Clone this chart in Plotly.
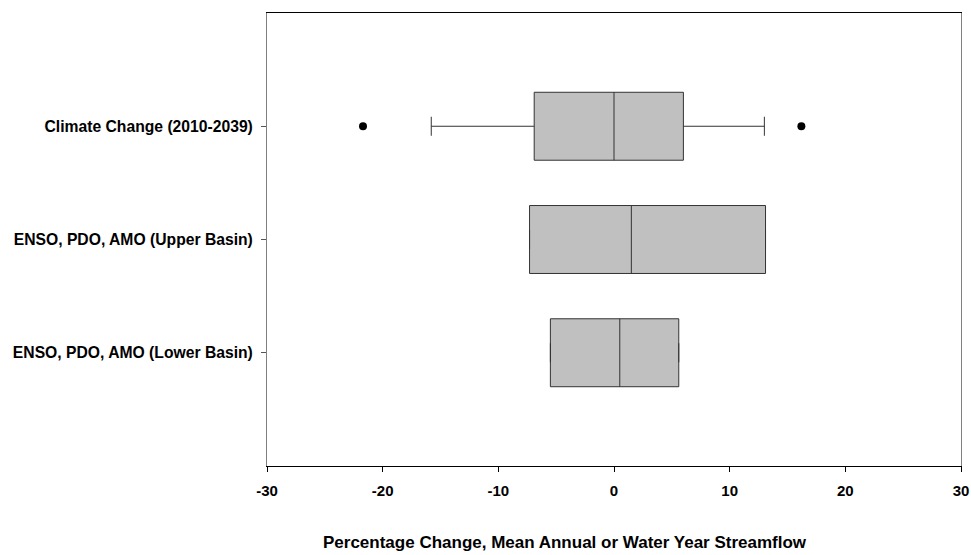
import plotly.graph_objects as go

# Scenario labels, top to bottom
categories = [
    "Climate Change (2010-2039)",
    "ENSO, PDO, AMO (Upper Basin)",
    "ENSO, PDO, AMO (Lower Basin)",
]
positions = [1, 2, 3]

# Box statistics (percent change)
q1 = [-6.9, -7.3, -5.5]
median = [0.0, 1.5, 0.5]
q3 = [6.0, 13.1, 5.6]
lower_fence = [-15.8, -7.3, -5.5]
upper_fence = [13.0, 13.1, 5.6]

# Outlying points for the climate change scenario
outlier_x = [-21.7, 16.2]
outlier_pos = [1, 1]

x_ticks = [-30, -20, -10, 0, 10, 20, 30]

FONT = "Liberation Sans, Arial, sans-serif"

fig = go.Figure()

fig.add_trace(go.Box(
    orientation="h",
    y=positions,
    q1=q1,
    median=median,
    q3=q3,
    lowerfence=lower_fence,
    upperfence=upper_fence,
    width=0.6,
    whiskerwidth=0.28,
    fillcolor="#c0c0c0",
    line=dict(color="#333333", width=1),
    boxpoints=False,
    hoverinfo="skip",
    showlegend=False,
))

fig.add_trace(go.Scatter(
    x=outlier_x,
    y=outlier_pos,
    mode="markers",
    marker=dict(color="black", size=8),
    hoverinfo="skip",
    showlegend=False,
))

fig.add_annotation(
    text="Percentage Change, Mean Annual or Water Year Streamflow",
    xref="paper", yref="paper",
    x=0.429, y=-0.168,
    xanchor="center", yanchor="middle",
    showarrow=False,
    font=dict(family=FONT, size=17, weight="bold", color="black"),
)

fig.update_layout(
    width=971,
    height=555,
    margin=dict(l=267, r=10, t=13, b=89),
    paper_bgcolor="white",
    plot_bgcolor="white",
    font=dict(family=FONT, color="black"),
    xaxis=dict(
        range=[-30, 30],
        tickvals=x_ticks,
        ticktext=[str(v) for v in x_ticks],
        ticks="outside",
        ticklen=5,
        tickcolor="black",
        ticklabelstandoff=6,
        tickfont=dict(family=FONT, size=15, weight="bold", color="black"),
        showgrid=False,
        zeroline=False,
        showline=True,
        linecolor="black",
        linewidth=1,
        mirror=True,
        automargin=False,
    ),
    yaxis=dict(
        range=[4, 0],
        tickvals=positions,
        ticktext=categories,
        ticks="outside",
        ticklen=5,
        tickcolor="#555555",
        ticklabelstandoff=5,
        tickfont=dict(family=FONT, size=15.7, weight="bold", color="black"),
        showgrid=False,
        zeroline=False,
        showline=True,
        linecolor="#808080",
        linewidth=1,
        mirror=True,
        automargin=False,
    ),
)

fig.write_html("out.html")
